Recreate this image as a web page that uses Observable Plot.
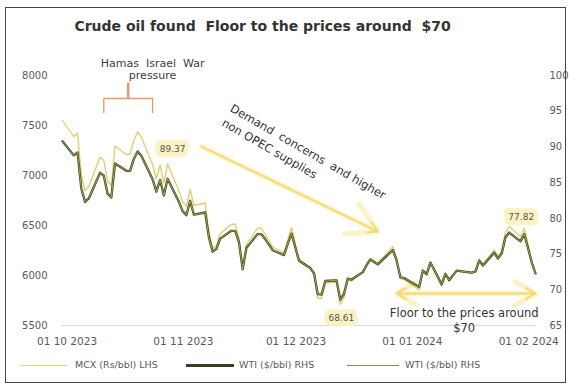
<!DOCTYPE html>
<html><head><meta charset="utf-8">
<script src="https://cdn.jsdelivr.net/npm/d3@7"></script>
<script src="https://cdn.jsdelivr.net/npm/@observablehq/plot@0.6"></script>
<style>
body{margin:0;background:#fff;font-family:"DejaVu Sans",sans-serif;}
#wrap{position:relative;width:569px;height:385px;overflow:hidden;}
#frame{position:absolute;left:5px;top:7px;width:561px;height:376px;border:1px solid #444;box-sizing:border-box;pointer-events:none;}
#title{position:absolute;left:0;width:525px;top:18px;text-align:center;font-weight:bold;font-size:14px;color:#333;white-space:pre;}
#chart{position:absolute;left:0;top:0;}
.lg{position:absolute;top:358px;font-size:9.5px;color:#595959;white-space:pre;line-height:14px;}
.sw{position:absolute;top:7px;height:0;}
</style></head>
<body><div id="wrap">
<div id="chart"></div>
<div id="title">Crude oil found  Floor to the prices around  $70</div>
<div class="lg" style="left:20px"><span class="sw" style="left:0;width:47px;border-top:1px solid #e6d27a"></span><span style="position:absolute;left:55px">MCX (Rs/bbl) LHS</span></div>
<div class="lg" style="left:186px"><span class="sw" style="left:0;top:6px;width:48px;border-top:3px solid #34431f"></span><span style="position:absolute;left:53px">WTI ($/bbl) RHS</span></div>
<div class="lg" style="left:347px"><span class="sw" style="left:0;width:52px;border-top:1px solid #8a8748"></span><span style="position:absolute;left:58px">WTI ($/bbl) RHS</span></div>
<div id="frame"></div>
</div>
<script>
// ---- data ----
const dates = ["2023-09-29","2023-10-02","2023-10-03","2023-10-04","2023-10-05","2023-10-06","2023-10-09","2023-10-10","2023-10-11","2023-10-12","2023-10-13","2023-10-16","2023-10-17","2023-10-18","2023-10-19","2023-10-20","2023-10-23","2023-10-24","2023-10-25","2023-10-26","2023-10-27","2023-10-30","2023-10-31","2023-11-01","2023-11-02","2023-11-03","2023-11-06","2023-11-07","2023-11-08","2023-11-09","2023-11-10","2023-11-13","2023-11-14","2023-11-15","2023-11-16","2023-11-17","2023-11-20","2023-11-21","2023-11-22","2023-11-24","2023-11-27","2023-11-28","2023-11-29","2023-11-30","2023-12-01","2023-12-04","2023-12-05","2023-12-06","2023-12-07","2023-12-08","2023-12-11","2023-12-12","2023-12-13","2023-12-14","2023-12-15","2023-12-18","2023-12-19","2023-12-20","2023-12-21","2023-12-22","2023-12-26","2023-12-27","2023-12-28","2023-12-29","2024-01-02","2024-01-03","2024-01-04","2024-01-05","2024-01-08","2024-01-09","2024-01-10","2024-01-11","2024-01-12","2024-01-16","2024-01-17","2024-01-18","2024-01-19","2024-01-22","2024-01-23","2024-01-24","2024-01-25","2024-01-26","2024-01-29","2024-01-30","2024-01-31","2024-02-01","2024-02-02"];
const wti = [90.79,88.82,89.23,84.22,82.31,82.79,86.38,85.97,83.49,82.91,87.69,86.66,86.66,88.32,89.37,88.75,85.49,83.74,85.39,83.21,85.54,82.31,81.02,80.44,82.46,80.51,80.82,77.37,75.33,75.74,77.17,78.26,78.26,76.66,72.90,75.89,77.83,77.77,77.10,75.54,74.86,76.41,77.86,75.96,74.07,73.04,72.32,69.38,69.34,71.23,71.32,68.61,69.47,71.58,71.43,72.47,73.44,74.22,73.89,73.56,75.57,74.11,71.77,71.65,70.38,72.70,72.19,73.81,70.77,72.24,71.37,72.02,72.68,72.40,72.56,74.08,73.41,75.19,74.37,75.09,77.36,78.01,76.78,77.82,75.85,73.82,72.28];
const mcx = [7550,7390,7425,7005,6850,6890,7185,7150,6945,6900,7295,7210,7215,7350,7435,7385,7110,6965,7105,6925,7115,6850,6740,6690,6860,6700,6725,6440,6270,6300,6420,6510,6515,6380,6065,6315,6475,6470,6415,6285,6230,6355,6480,6320,6165,6075,6015,5775,5770,5925,5935,5710,5780,5955,5945,6030,6110,6175,6150,6120,6290,6165,5970,5960,5855,6050,6005,6140,5890,6010,5940,5990,6045,6025,6035,6165,6110,6255,6190,6250,6435,6490,6390,6475,6310,6140,6015];
const xTicks = ["2023-10-01","2023-11-01","2023-12-01","2024-01-01","2024-02-01"];
const leftTicks = [5500,6000,6500,7000,7500,8000];
const rightTicks = [65,70,75,80,85,90,95,100];
const callouts = [
  {date:"2023-10-19", wti:89.37, label:"89.37"},
  {date:"2023-12-12", wti:68.61, label:"68.61"},
  {date:"2024-01-30", wti:77.82, label:"77.82"}
];
const warBracket = [
  {date:"2023-10-10", v:7630},{date:"2023-10-10", v:7770},
  {date:"2023-10-23", v:7770},{date:"2023-10-23", v:7630}
];
const warStem = [{date:"2023-10-16T12:00", v1:7770, v2:7930}];
const warNote = [{date:"2023-10-23", v:8065, text:"Hamas  Israel  War\npressure"}];
const trendNote = [{date:"2023-11-14", v:7750, text:"Demand  concerns  and higher\nnon OPEC supplies"}];
const trendArrow = [{d1:"2023-11-05", v1:7290, d2:"2023-12-22", v2:6440}];
const floorNote = [{date:"2024-01-14", v:5690, text:"Floor to the prices around\n$70"}];
const floorArrow = [
  {d1:"2024-01-14", v1:5820, d2:"2023-12-27", v2:5820},
  {d1:"2024-01-14", v1:5820, d2:"2024-02-02", v2:5820}
];

// ---- chart ----
const parse = s => new Date(s + (s.length > 10 ? ":00Z" : "T00:00:00Z"));
const rows = dates.map((d, i) => ({date: parse(d), wti: wti[i], mcx: mcx[i]}));
const toLeft = d3.scaleLinear([65, 100], [5500, 8000]);

const glow = "#fcf2c4";
const yel = "#f0dc72";

const chart = Plot.plot({
  width: 569, height: 385,
  marginTop: 75, marginBottom: 60, marginLeft: 62, marginRight: 34,
  style: {fontFamily: "DejaVu Sans", fontSize: "10px", color: "#595959", background: "transparent", overflow: "visible"},
  x: {type: "utc", domain: [parse("2023-09-29"), parse("2024-02-02")]},
  y: {domain: [5500, 8000]},
  marks: [
    Plot.ruleY([5500], {stroke: "#d9d9d9"}),
    Plot.axisX({ticks: xTicks.map(parse), tickFormat: d3.utcFormat("%d %m %Y"), tickSize: 0, tickPadding: 12, label: null, dx: -3, fontSize: 10.5}),
    Plot.axisY({ticks: leftTicks, tickFormat: d => String(d), tickSize: 0, tickPadding: 15, label: null}),
    Plot.axisY({anchor: "right", ticks: rightTicks.map(toLeft), tickFormat: d => String(Math.round(toLeft.invert(d))), tickSize: 0, tickPadding: 14, label: null}),
    // trend arrow
    Plot.arrow(trendArrow, {x1: d => parse(d.d1), y1: "v1", x2: d => parse(d.d2), y2: "v2", stroke: glow, strokeWidth: 5, headLength: 10}),
    Plot.arrow(trendArrow, {x1: d => parse(d.d1), y1: "v1", x2: d => parse(d.d2), y2: "v2", stroke: yel, strokeWidth: 1.8, headLength: 9}),
    // floor arrows
    Plot.arrow(floorArrow, {x1: d => parse(d.d1), y1: "v1", x2: d => parse(d.d2), y2: "v2", stroke: glow, strokeWidth: 5, headLength: 10}),
    Plot.arrow(floorArrow, {x1: d => parse(d.d1), y1: "v1", x2: d => parse(d.d2), y2: "v2", stroke: yel, strokeWidth: 1.8, headLength: 9}),
    // war bracket
    Plot.line(warBracket, {x: d => parse(d.date), y: "v", stroke: "#e9986c", strokeWidth: 1.3}),
    Plot.link(warStem, {x1: d => parse(d.date), x2: d => parse(d.date), y1: "v1", y2: "v2", stroke: "#e9986c", strokeWidth: 2.5}),
    Plot.text(warNote, {x: d => parse(d.date), y: "v", text: "text", fontSize: 11, fill: "#404040", lineHeight: 1.15}),
    // series
    Plot.line(rows, {x: "date", y: "mcx", stroke: "#e2cc6e", strokeWidth: 1.3}),
    Plot.line(rows, {x: "date", y: d => toLeft(d.wti), stroke: "#34431f", strokeWidth: 2.3}),
    Plot.line(rows, {x: "date", y: d => toLeft(d.wti), stroke: "#c4bc62", strokeWidth: 0.8}),
    // notes
    Plot.text(trendNote, {x: d => parse(d.date), y: "v", text: "text", rotate: 30, textAnchor: "start", lineAnchor: "top", fontSize: 11.5, lineHeight: 1.45, fill: "#333"}),
    Plot.text(floorNote, {x: d => parse(d.date), y: "v", text: "text", lineAnchor: "top", fontSize: 11.5, lineHeight: 1.3, fill: "#333"}),
    // callouts
    Plot.text(callouts.slice(0, 1), {x: d => parse(d.date), y: d => toLeft(d.wti), text: "label", dx: 35, dy: -2, fontSize: 9, fill: "#555", stroke: glow, strokeWidth: 10, strokeLinejoin: "round", paintOrder: "stroke"}),
    Plot.text(callouts.slice(1, 2), {x: d => parse(d.date), y: d => toLeft(d.wti), text: "label", dx: 1, dy: 18, fontSize: 9, fill: "#555", stroke: glow, strokeWidth: 10, strokeLinejoin: "round", paintOrder: "stroke"}),
    Plot.text(callouts.slice(2, 3), {x: d => parse(d.date), y: d => toLeft(d.wti), text: "label", dx: -3, dy: -17, fontSize: 9, fill: "#555", stroke: glow, strokeWidth: 10, strokeLinejoin: "round", paintOrder: "stroke"})
  ]
});
document.getElementById("chart").appendChild(chart);
</script>
</body></html>
